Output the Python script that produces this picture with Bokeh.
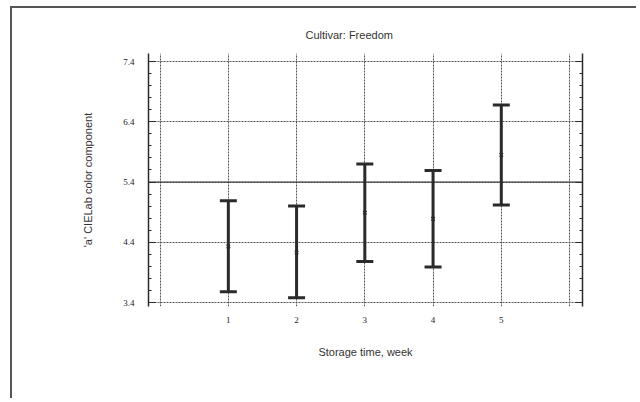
from bokeh.plotting import figure
from bokeh.models import (ColumnDataSource, FixedTicker, Whisker, TeeHead, Span,
                          LinearAxis, Range1d, Title, Grid)
from bokeh.embed import file_html
from bokeh.resources import INLINE

# Data
weeks = [1, 2, 3, 4, 5]
means = [4.33, 4.23, 4.89, 4.79, 5.85]
lowers = [3.58, 3.48, 4.08, 3.99, 5.02]
uppers = [5.09, 5.00, 5.70, 5.59, 6.68]
y_ticks = [3.4, 4.4, 5.4, 6.4, 7.4]
y_minor = [round(3.4 + 0.2 * i, 1) for i in range(21)]
x_ticks = [1, 2, 3, 4, 5]
x_grid = [0, 1, 2, 3, 4, 5, 6]
reference_level = 5.4

src = ColumnDataSource(dict(x=weeks, m=means, lo=lowers, hi=uppers))

INK = "#2a2a2a"
GRID = "#555555"

p = figure(width=626, height=392, output_backend="svg", toolbar_location=None,
           x_range=Range1d(-0.17, 6.19), y_range=Range1d(3.334, 7.533),
           min_border_left=136, min_border_right=56, min_border_top=45,
           min_border_bottom=94, y_axis_location=None, x_axis_location=None)
p.outline_line_color = None
p.background_fill_color = "white"
p.border_fill_color = "white"
p.styles = {"margin-left": "10px", "margin-top": "6px",
            "border-left": "2px solid #555555", "border-top": "2px solid #555555"}

# remove default grids
for r in list(p.center):
    if isinstance(r, Grid):
        p.center.remove(r)

# Title
t = Title(text="Cultivar: Freedom", align="left", offset=157,
          text_font="Liberation Sans", text_font_size="11px",
          text_font_style="normal", text_color="#333333", standoff=26)
p.add_layout(t, "above")

# Axes
left = LinearAxis(ticker=FixedTicker(ticks=y_ticks, minor_ticks=y_minor),
                  axis_label="'a' CIELab color component")
right = LinearAxis(ticker=FixedTicker(ticks=y_ticks, minor_ticks=y_minor))
bottom = LinearAxis(ticker=FixedTicker(ticks=x_ticks), axis_label="Storage time, week")
for ax in (left, right):
    ax.axis_line_color = INK
    ax.axis_line_width = 1.5
    ax.major_tick_in = 7
    ax.major_tick_out = 0
    ax.minor_tick_in = 3
    ax.minor_tick_out = 0
    ax.major_tick_line_color = INK
    ax.minor_tick_line_color = INK
    ax.major_label_text_font = "Liberation Serif"
    ax.major_label_text_font_size = "9px"
    ax.major_label_text_color = "#222222"
left.major_label_standoff = 14
left.axis_label_standoff = 26
left.axis_label_text_font = "Liberation Sans"
left.axis_label_text_font_size = "11px"
left.axis_label_text_font_style = "normal"
left.axis_label_text_color = "#333333"
right.major_label_text_font_size = "0px"
right.major_label_text_color = None

bottom.axis_line_color = None
bottom.major_tick_line_color = None
bottom.minor_tick_line_color = None
bottom.major_label_standoff = 4
bottom.major_label_text_font = "Liberation Serif"
bottom.major_label_text_font_size = "9px"
bottom.major_label_text_color = "#222222"
bottom.axis_label_standoff = 20
bottom.axis_label_text_font = "Liberation Sans"
bottom.axis_label_text_font_size = "11px"
bottom.axis_label_text_font_style = "normal"
bottom.axis_label_text_color = "#333333"

p.add_layout(left, "left")
p.add_layout(right, "right")
p.add_layout(bottom, "below")

# Grid
xg = Grid(dimension=0, ticker=FixedTicker(ticks=x_grid), grid_line_color=GRID,
          grid_line_dash="2 1", grid_line_width=1)
yg = Grid(dimension=1, ticker=FixedTicker(ticks=y_ticks), grid_line_color=GRID,
          grid_line_dash="2 1", grid_line_width=1)
p.add_layout(xg)
p.add_layout(yg)

p.add_layout(Span(location=reference_level, dimension="width", line_color=INK,
                  line_width=1.2))

# Error bars
w = Whisker(base="x", lower="lo", upper="hi", source=src, line_color=INK, line_width=3,
            upper_head=TeeHead(size=17, line_color=INK, line_width=3),
            lower_head=TeeHead(size=17, line_color=INK, line_width=3))
p.add_layout(w)
p.scatter("x", "m", source=src, marker="x", size=5, line_color=INK, line_width=1.2)

open("out.html", "w").write(file_html(p, INLINE))
